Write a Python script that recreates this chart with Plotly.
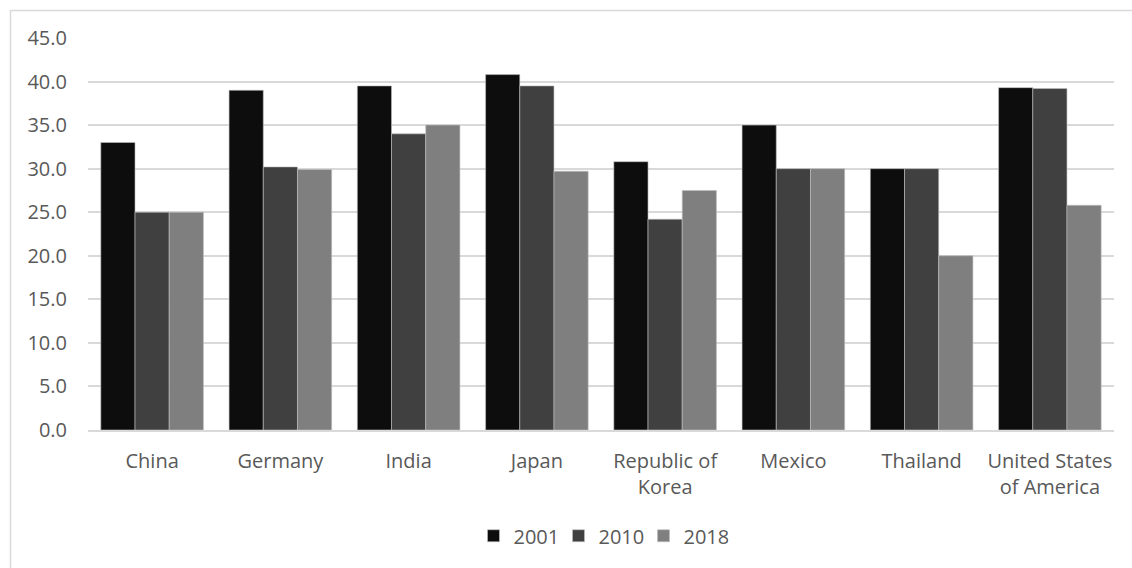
import plotly.graph_objects as go

categories = ["China", "Germany", "India", "Japan", "Republic of<br>Korea", "Mexico", "Thailand", "United States<br>of America"]
series_names = ["2001", "2010", "2018"]
values_2001 = [33.0, 39.0, 39.5, 40.8, 30.8, 35.0, 30.0, 39.3]
values_2010 = [25.0, 30.2, 34.0, 39.5, 24.2, 30.0, 30.0, 39.2]
values_2018 = [25.0, 29.9, 35.0, 29.7, 27.5, 30.0, 20.0, 25.8]
colors = ["#0D0D0D", "#404040", "#7F7F7F"]
tick_vals = [0, 5, 10, 15, 20, 25, 30, 35, 40, 45]

FONT = "Open Sans"
FS = 20

fig = go.Figure()
for name, vals, col in zip(series_names, [values_2001, values_2010, values_2018], colors):
    fig.add_trace(go.Bar(
        x=categories, y=vals, name=name,
        marker=dict(color=col, line=dict(color="#BFBFBF", width=0.6)),
    ))

W, H = 1132, 568
ml, mr, mt, mb = 88, 18, 38, 138
pw = W - ml - mr
ph = H - mt - mb

fig.update_layout(
    width=W, height=H,
    margin=dict(l=ml, r=mr, t=mt, b=mb),
    paper_bgcolor="white", plot_bgcolor="white",
    barmode="group", bargap=0.2, bargroupgap=0,
    font=dict(family=FONT, size=FS, color="#595959"),
    showlegend=True,
    legend=dict(orientation="h", x=0.5, xanchor="center", y=-0.22, yanchor="top",
                font=dict(size=FS, color="#595959"), traceorder="normal",
                itemwidth=30, entrywidth=40, entrywidthmode="pixels"),
    xaxis=dict(showgrid=False, showline=True, linecolor="#D9D9D9", linewidth=1.5,
               ticks="", tickfont=dict(size=FS, color="#595959"), ticklabelstandoff=12),
    yaxis=dict(range=[0, 45], tickvals=tick_vals, tickformat=".1f",
               showgrid=True, gridcolor="#D9D9D9", gridwidth=1.5,
               zeroline=False, showline=False, ticks="",
               tickfont=dict(size=FS, color="#595959"), ticklabelstandoff=20),
)

# chart border (only top & left visible in reference)
x0 = (10.5 - ml) / pw
y1 = (H - 10.5 - mb) / ph
x1 = (W + 20 - ml) / pw
y0 = (-40 - mb) / ph
fig.add_shape(type="rect", xref="paper", yref="paper", x0=x0, x1=x1, y0=y0, y1=y1,
              line=dict(color="#D9D9D9", width=1.5), layer="below")

fig.write_html("out.html")
